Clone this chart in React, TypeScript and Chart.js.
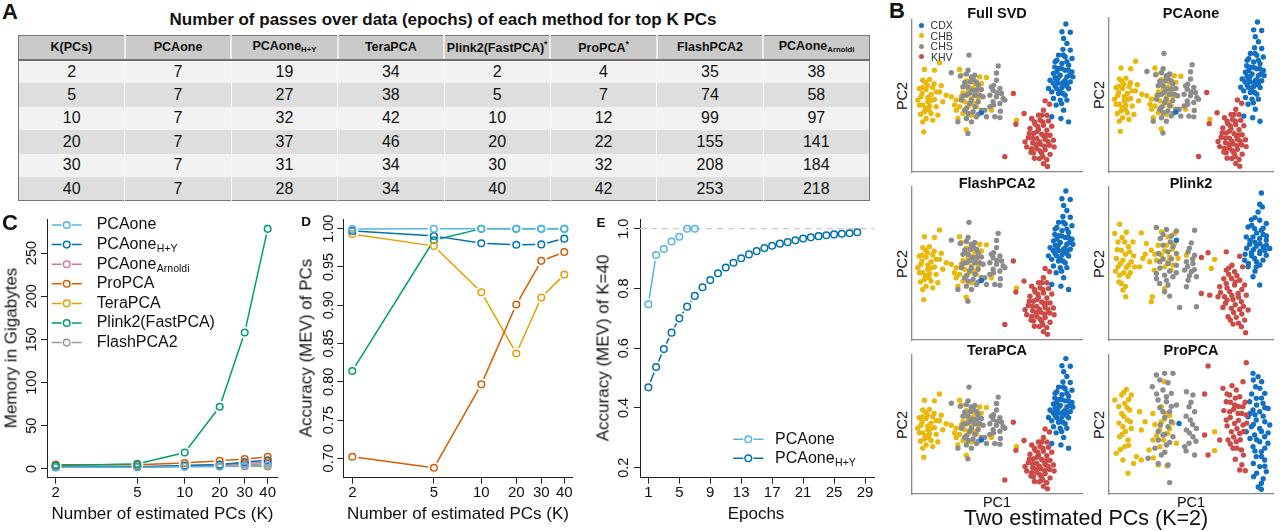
import React, { useEffect, useRef } from 'react';
import { Chart, registerables } from 'chart.js';

Chart.register(...registerables);

const FONT = '"Liberation Sans", Arial, Helvetica, sans-serif';
Chart.defaults.font.family = FONT;
Chart.defaults.color = '#111';

// ---------------- Panel A: epochs table ----------------
const TABLE_TITLE = 'Number of passes over data (epochs) of each method for top K PCs';
const TABLE_K = [2, 5, 10, 20, 30, 40];
const EPOCHS_PCAONE = [7, 7, 7, 7, 7, 7];
const EPOCHS_PCAONE_HY = [19, 27, 32, 37, 31, 28];
const EPOCHS_TERAPCA = [34, 38, 42, 46, 34, 34];
const EPOCHS_PLINK2 = [2, 5, 10, 20, 30, 40];
const EPOCHS_PROPCA = [4, 7, 12, 22, 32, 42];
const EPOCHS_FLASHPCA2 = [35, 74, 99, 155, 208, 253];
const EPOCHS_ARNOLDI = [38, 58, 97, 141, 184, 218];

// ---------------- Panels C / D ----------------
const K_VALUES = [2, 5, 10, 20, 30, 40];
// spacing of the K axis as laid out in the original figure
const K_AXIS_SPACING = [0, 81.6, 129, 164, 189, 212];
const kPos = (k: number) => K_AXIS_SPACING[K_VALUES.indexOf(k)];

const MEM_PCAONE = [2, 2, 2.5, 3, 3.5, 4];
const MEM_PCAONE_HY = [2, 2.5, 4, 5, 8, 10];
const MEM_ARNOLDI = [2, 2.5, 3.5, 5, 6.5, 8];
const MEM_PROPCA = [5, 5, 7, 9.5, 11.5, 14];
const MEM_TERAPCA = [3, 3, 3, 3, 3, 3];
const MEM_PLINK2 = [4, 6, 19, 72, 158, 278];
const MEM_FLASHPCA2 = [2, 2.5, 3, 4, 5, 6];
const MEM_TICKS = [0, 50, 100, 150, 200, 250];

const ACC_PCAONE = [0.9995, 1.0, 1.0, 1.0, 1.0, 1.0];
const ACC_PCAONE_HY = [0.997, 0.9905, 0.981, 0.979, 0.9795, 0.987];
const ACC_TERAPCA = [0.993, 0.9774, 0.917, 0.837, 0.91, 0.94];
const ACC_PROPCA = [0.702, 0.6876, 0.7966, 0.901, 0.958, 0.9695];
const ACC_PLINK2 = [0.814, 0.985, 1.0, 1.0, 1.0, 1.0];
const ACC_TICKS = [0.7, 0.75, 0.8, 0.85, 0.9, 0.95, 1.0];

// ---------------- Panel E ----------------
const EPOCHS_E_PCAONE = [1, 2, 3, 4, 5, 6, 7];
const MEV_PCAONE = [0.747, 0.912, 0.932, 0.957, 0.973, 1.0, 1.0];
const EPOCHS_E_HY = [1, 2, 3, 4, 5, 6, 7, 8, 9, 10, 11, 12, 13, 14, 15, 16, 17, 18, 19, 20, 21, 22, 23, 24, 25, 26, 27, 28];
const MEV_PCAONE_HY = [0.469, 0.537, 0.597, 0.652, 0.7, 0.739, 0.775, 0.804, 0.828, 0.851, 0.87, 0.886, 0.901, 0.914, 0.925, 0.935, 0.943, 0.95, 0.955, 0.961, 0.967, 0.971, 0.975, 0.978, 0.981, 0.983, 0.985, 0.988];
const EPOCH_TICKS = [1, 5, 9, 13, 17, 21, 25, 29];
const MEV_TICKS = [0.2, 0.4, 0.6, 0.8, 1.0];
const MEV_REFERENCE = 1.0;

// ---------------- Panel B: PC1 / PC2 scores (scaled 0-100) ----------------
type Pt = [number, number];
const POPULATIONS = ['CDX', 'CHB', 'CHS', 'KHV'];
const POP_COLORS = ['#1170C4', '#E9B80C', '#8C8C8C', '#CC4B46'];

const SVD_CDX: Pt[] = [[90.5,97.4],[88.2,92.3],[93.1,91.9],[89.2,87.9],[91.1,84.6],[88.8,80.7],[93.1,80.2],[86.2,76.9],[90.1,75.8],[94.1,74.7],[84.2,72.5],[88.2,71.4],[92.1,70.3],[85.2,73.6],[91.1,72.5],[86.2,68.1],[90.1,67.0],[94.1,65.9],[85.2,65.9],[83.2,64.8],[87.2,63.7],[91.1,62.6],[92.7,63.7],[94.6,62.6],[84.2,62.0],[81.2,60.4],[85.2,60.4],[89.2,59.3],[93.1,59.3],[83.0,58.5],[86.2,58.5],[89.2,57.4],[91.1,56.5],[84.2,56.5],[88.2,55.6],[92.1,54.9],[80.3,55.0],[82.2,52.7],[86.2,51.6],[88.8,51.6],[90.1,50.5],[83.2,48.4],[87.2,47.3],[91.1,47.3],[84.8,44.0],[89.2,40.7],[82.2,36.3],[87.6,35.2],[92.1,33.0],[40.8,38.9],[88,68],[86,62],[90,60],[87,53],[91,58.5],[84,69],[89,77],[92,67],[85,55],[88,45]];
const SVD_CHB: Pt[] = [[7.3,67.5],[16.2,71.9],[13.2,67.0],[6.3,60.4],[10.3,60.9],[7.9,58.9],[4.3,54.9],[8.3,54.3],[12.2,55.6],[17.2,56.7],[16.2,52.7],[14.2,52.7],[20.1,50.5],[5.9,51.6],[11.2,51.0],[5.3,49.5],[9.3,49.0],[13.2,47.7],[3.4,47.3],[9.3,46.2],[18.1,46.2],[6.3,44.0],[4.3,44.0],[10.3,43.3],[14.2,42.9],[9.9,40.7],[7.3,39.6],[11.2,38.5],[15.2,37.4],[8.3,35.2],[12.2,34.1],[6.3,33.0],[6.9,26.4],[23.1,49.5],[26.0,47.3],[28.0,67.5],[29.0,63.7],[34.9,61.5],[39.8,62.6],[43.8,62.2],[36.9,58.2],[40.8,58.2],[31.5,57.1],[33.0,53.8],[37.9,52.7],[33.5,51.6],[29.0,49.5],[34.9,48.4],[38.9,48.4],[31.0,46.2],[36.3,45.1],[25.0,44.0],[28.0,42.9],[33.0,42.9],[37.9,42.9],[26.0,40.7],[30.0,38.5],[34.9,37.4],[27.0,35.2],[31.9,27.9],[46.7,40.7],[61.5,34.1],[9,57],[6,55.5],[11,47],[8,42],[13,58],[5,38],[32,60],[36,55],[30,52],[35,45]];
const SVD_CHS: Pt[] = [[33.5,76.9],[23.1,65.3],[28.4,63.1],[32.0,64.4],[36.9,63.7],[34.9,62.6],[34.3,59.3],[37.9,59.3],[31.0,58.9],[38.9,57.1],[30.0,56.0],[35.5,53.8],[40.8,54.3],[32.0,50.5],[36.9,50.5],[39.8,50.5],[41.8,49.5],[29.0,47.3],[34.9,47.3],[33.9,45.1],[38.9,46.2],[31.0,40.7],[35.9,39.6],[40.8,40.7],[42.8,40.7],[33.0,38.5],[27.0,33.0],[32.0,35.2],[37.9,36.3],[43.8,36.3],[32.9,25.3],[50.7,69.7],[49.7,65.1],[49.7,60.4],[46.7,56.0],[47.7,53.8],[51.7,54.9],[52.7,51.6],[45.8,50.5],[49.7,49.5],[53.6,48.4],[47.7,46.2],[51.7,45.1],[54.6,47.3],[45.8,42.9],[48.7,36.3],[51.7,35.8],[33,67],[36,61],[33,56],[38,54],[34,52],[30,50],[37,43],[32,42],[39,38],[35,33],[48,57],[50,52],[48,44],[52,40]];
const SVD_KHV: Pt[] = [[59.6,51.6],[65.9,38.5],[61.1,31.4],[54.6,10.1],[78.3,46.8],[80.9,44.6],[77.3,40.7],[74.4,37.4],[79.3,37.4],[76.3,37.4],[70.4,35.2],[75.3,34.1],[80.3,33.6],[72.4,31.4],[77.3,30.8],[82.2,30.1],[69.4,28.6],[74.4,27.9],[79.3,27.5],[73.4,26.4],[69.0,25.3],[71.4,25.3],[76.3,24.8],[81.2,24.2],[77.7,23.5],[68.4,22.6],[73.4,22.0],[78.3,21.3],[83.2,20.9],[66.5,19.8],[71.0,19.1],[75.7,18.2],[80.9,17.6],[67.5,16.5],[83.6,16.5],[73.4,15.4],[70.4,15.4],[78.3,14.7],[75.3,13.8],[71.4,12.5],[76.3,12.1],[81.2,11.6],[74.9,8.8],[79.3,8.1],[77.3,5.5],[79.7,3.7],[72,33],[77,33],[74,30],[79,24],[71,22],[75,20],[80,20],[73,18],[78,17],[70,13],[77,10],[72,9]];

const PLINK2_CDX: Pt[] = [[92.9,96.1],[91.9,88.7],[93.5,87.0],[90.9,83.7],[86.8,78.7],[91.9,78.3],[95.9,76.1],[84.8,73.9],[88.8,72.8],[92.9,71.7],[83.7,67.4],[87.8,67.4],[91.9,66.3],[95.9,65.2],[85.8,62.6],[89.8,61.3],[93.9,60.9],[98.0,59.8],[86.8,57.0],[91.9,56.5],[95.9,55.4],[88.8,53.3],[93.9,52.2],[82.7,52.2],[84.8,47.8],[89.8,47.8],[87.8,41.3],[91.9,35.9],[41.1,65.2],[87,75],[90,70],[94,69],[86,65],[89,64],[92,63],[96,62],[84,60],[88,59],[92,58],[95,58.5],[87,55],[90,51],[85,50],[92,49],[89,45],[94,73],[89,80],[96,68],[83,56]];
const PLINK2_CHB: Pt[] = [[6.5,75.7],[3.5,69.6],[10.6,70.4],[19.7,70.0],[5.5,64.1],[9.6,64.1],[14.6,64.1],[7.5,58.7],[12.6,57.6],[4.5,53.3],[8.5,52.2],[13.6,51.1],[5.5,47.8],[10.6,47.4],[15.6,47.8],[6.5,42.4],[11.6,41.7],[7.5,37.0],[8.5,32.6],[10.2,28.3],[22.8,63.0],[25.8,58.7],[20.7,53.3],[24.8,51.1],[18.7,47.8],[31.9,70.7],[36.0,67.4],[40.0,69.6],[33.9,58.3],[38.6,59.3],[31.9,55.4],[37.0,54.3],[42.1,53.3],[33.9,47.8],[37.8,45.7],[27.6,45.7],[33.9,33.7],[26.4,28.3],[25.8,25.0],[47.2,55.4],[62.4,46.7],[64.4,52.6],[8,67],[12,61],[5,59],[10,56],[15,55],[7,50],[12,49],[9,44],[13,44],[4,45],[6,38],[10,35],[28,56],[35,62],[30,62],[40,63],[36,51],[39,49],[29,52],[22,56]];
const PLINK2_CHS: Pt[] = [[28.9,73.5],[35.0,72.2],[41.1,71.3],[31.3,66.3],[37.4,64.1],[30.3,56.5],[36.0,57.6],[41.1,56.5],[30.9,51.1],[36.0,50.0],[41.1,48.9],[28.9,43.5],[33.9,42.4],[39.0,41.3],[30.9,37.0],[36.0,35.9],[33.9,31.5],[37.0,28.7],[43.1,21.3],[52.2,71.7],[50.2,63.5],[48.2,57.6],[52.2,55.4],[47.2,51.1],[51.2,50.0],[46.1,45.7],[50.2,44.6],[53.3,41.3],[48.2,39.1],[47.2,34.8],[53.3,21.7],[33,69],[38,68],[33,62],[39,61],[33,53],[38,53],[31,47],[37,45],[35,39],[41,44],[29,40],[49,60],[51,53],[48,48],[52,46],[49,42]];
const PLINK2_KHV: Pt[] = [[71.5,57.6],[60.4,57.0],[56.3,53.9],[79.7,54.8],[75.0,48.9],[81.5,47.8],[71.5,45.7],[76.6,44.6],[74.6,40.2],[79.7,39.1],[71.5,37.0],[76.6,35.9],[82.7,35.9],[73.6,31.5],[78.7,30.4],[83.7,29.3],[70.5,28.3],[75.6,26.5],[80.7,25.0],[69.5,21.3],[74.6,20.7],[79.7,20.0],[84.8,19.6],[72.6,15.2],[77.6,14.8],[82.7,13.0],[75.6,10.4],[80.7,8.7],[83.3,4.8],[56.3,30.4],[61.4,29.3],[66.5,28.3],[67.5,34.8],[73,43],[78,42],[70,40],[77,38],[81,33],[72,34],[75,29],[79,28],[72,26],[77,23],[82,22],[71,24],[76,18],[81,17],[74,13],[79,11],[68,31],[73,47]];

const PROPCA_CDX: Pt[] = [[87.8,86.8],[90.9,84.4],[93.1,80.8],[89.4,77.2],[95.0,72.4],[89.8,68.8],[85.8,66.4],[93.9,65.2],[97.0,61.6],[87.8,60.4],[91.9,59.2],[84.8,55.6],[89.8,53.2],[95.0,52.0],[98.0,49.6],[86.8,48.4],[91.9,47.2],[83.7,44.8],[88.8,42.4],[94.9,41.2],[91.9,37.6],[96.9,36.5],[87.8,34.1],[92.9,30.5],[89.8,26.9],[94.9,24.5],[91.9,19.7],[95.9,16.1],[88.2,12.5],[92.9,7.7],[92.9,3.4],[42.7,50.8],[88,82],[92,76],[87,72],[93,69],[90,64],[95,62],[86,58],[89,57],[94,56],[88,50],[93,45],[97,44],[86,40],[90,39],[95,33],[89,31],[93,27],[88,22],[95,20],[90,15],[94,11],[91,5]];
const PROPCA_CHB: Pt[] = [[10.6,75.3],[7.7,71.2],[13.6,71.2],[3.5,67.6],[9.6,65.2],[12.6,60.4],[7.7,58.0],[11.2,53.2],[8.5,48.4],[13.6,47.2],[6.5,41.2],[11.6,38.8],[9.6,34.1],[4.5,29.3],[8.5,24.5],[16.7,26.9],[11.6,14.9],[19.7,46.0],[18.7,59.2],[26.8,58.0],[31.9,62.8],[33.9,80.8],[37.0,56.4],[33.9,54.0],[39.0,51.1],[30.9,46.3],[35.8,43.6],[26.8,38.8],[33.3,38.8],[24.4,31.7],[19.7,24.5],[30.1,20.9],[35.4,20.1],[64.4,44.8],[64.4,31.2],[41.1,36.5],[9,73],[12,68],[6,63],[11,62],[9,56],[13,52],[6,51],[10,45],[8,43],[12,35],[7,32],[15,22],[28,50],[32,52],[35,58],[29,42],[22,52],[37,47],[31,34],[27,26]];
const PROPCA_CHS: Pt[] = [[28.9,85.6],[33.9,86.8],[39.0,86.8],[26.4,77.2],[32.9,74.8],[38.0,72.4],[29.9,67.6],[35.0,66.4],[41.1,64.0],[32.9,59.2],[37.0,59.2],[31.3,49.6],[36.0,48.4],[32.9,42.4],[39.0,41.2],[30.1,38.8],[35.0,35.3],[23.8,25.7],[31.9,28.1],[36.0,20.9],[37.0,8.2],[47.2,73.6],[51.2,71.2],[48.8,62.8],[52.2,59.2],[49.6,53.2],[53.3,47.2],[47.2,46.0],[51.2,41.2],[48.8,36.5],[52.2,28.1],[46.1,34.1],[31,82],[36,80],[29,72],[35,70],[38,63],[31,62],[34,55],[38,52],[30,45],[34,43],[37,37],[28,33],[34,30],[30,22],[50,66],[47,56],[51,50],[49,44],[53,38],[47,31]];
const PROPCA_KHV: Pt[] = [[60.4,92.1],[83.7,94.5],[69.5,76.0],[81.7,80.8],[77.6,74.8],[58.3,71.9],[73.6,71.2],[79.7,70.0],[71.5,66.4],[76.6,64.0],[81.7,62.8],[73.6,59.2],[78.7,58.0],[83.7,56.8],[71.5,53.2],[76.6,50.8],[81.7,49.6],[74.6,44.8],[79.7,43.6],[72.6,38.8],[77.6,37.6],[75.6,32.9],[80.7,31.7],[79.7,17.3],[83.1,16.8],[60.4,28.1],[58.3,42.4],[67.5,38.8],[75,78],[72,72],[77,69],[83,66],[74,66],[79,63],[70,60],[76,61],[81,58],[74,55],[79,53],[84,51],[72,49],[78,47],[82,45],[76,41],[80,39],[74,36],[78,33],[82,28],[77,25],[81,21]];

const SVD_SET = [SVD_CDX, SVD_CHB, SVD_CHS, SVD_KHV];
const PLINK2_SET = [PLINK2_CDX, PLINK2_CHB, PLINK2_CHS, PLINK2_KHV];
const PROPCA_SET = [PROPCA_CDX, PROPCA_CHB, PROPCA_CHS, PROPCA_KHV];

const COL = {
  pcaone: '#56B4E9',
  hy: '#0072B2',
  arnoldi: '#CC79A7',
  propca: '#D55E00',
  terapca: '#E69F00',
  plink2: '#009E73',
  flash: '#999999',
};

// ---------------- plugins ----------------
const gapLines = {
  id: 'gapLines',
  beforeDatasetDraw(chart: any, args: any) {
    const ds = chart.data.datasets[args.index];
    if (!ds.rGap) return;
    const ctx = chart.ctx;
    const pts = args.meta.data;
    ctx.save();
    ctx.strokeStyle = ds.pointBorderColor;
    ctx.lineWidth = ds.rLineWidth || 1.5;
    for (let i = 0; i < pts.length - 1; i++) {
      const a = pts[i], b = pts[i + 1];
      const dx = b.x - a.x, dy = b.y - a.y;
      const d = Math.hypot(dx, dy);
      const g = ds.rGap;
      if (d <= 2 * g + 0.5) continue;
      const ux = dx / d, uy = dy / d;
      ctx.beginPath();
      ctx.moveTo(a.x + ux * g, a.y + uy * g);
      ctx.lineTo(b.x - ux * g, b.y - uy * g);
      ctx.stroke();
    }
    ctx.restore();
  },
};

function rYTicks(offset: number, decimals: number, size: number) {
  return {
    id: 'rYTicks',
    afterDraw(chart: any) {
      const s = chart.scales.y;
      const ctx = chart.ctx;
      ctx.save();
      ctx.font = `${size}px ${FONT}`;
      ctx.fillStyle = '#111';
      ctx.textAlign = 'center';
      ctx.textBaseline = 'middle';
      for (const t of s.ticks) {
        const y = s.getPixelForValue(t.value);
        ctx.save();
        ctx.translate(chart.chartArea.left - offset, y);
        ctx.rotate(-Math.PI / 2);
        ctx.fillText(Number(t.value).toFixed(decimals), 0, 0);
        ctx.restore();
      }
      ctx.restore();
    },
  };
}

type LegItem = { label: string; sub?: string; color: string };
function rLegend(items: LegItem[], g: { x0: number; x1: number; cx: number; tx: number; y0: number; dy: number }) {
  return {
    id: 'rLegend',
    afterDraw(chart: any) {
      const ctx = chart.ctx;
      ctx.save();
      items.forEach((it, i) => {
        const y = g.y0 + i * g.dy;
        ctx.strokeStyle = it.color;
        ctx.lineWidth = 1.5;
        ctx.beginPath();
        ctx.moveTo(g.x0, y);
        ctx.lineTo(g.cx - 5, y);
        ctx.moveTo(g.cx + 5, y);
        ctx.lineTo(g.x1, y);
        ctx.stroke();
        ctx.beginPath();
        ctx.arc(g.cx, y, 3.3, 0, Math.PI * 2);
        ctx.stroke();
        ctx.fillStyle = '#111';
        ctx.textAlign = 'left';
        ctx.textBaseline = 'middle';
        ctx.font = `16px ${FONT}`;
        ctx.fillText(it.label, g.tx, y);
        if (it.sub) {
          const w = ctx.measureText(it.label).width;
          ctx.font = `10.5px ${FONT}`;
          ctx.fillText(it.sub, g.tx + w + 0.5, y + 4.5);
        }
      });
      ctx.restore();
    },
  };
}

function refLine(value: number) {
  return {
    id: 'refLine',
    beforeDatasetsDraw(chart: any) {
      const { ctx, chartArea } = chart;
      const y = chart.scales.y.getPixelForValue(value);
      ctx.save();
      ctx.strokeStyle = '#c9c9c9';
      ctx.lineWidth = 1.3;
      ctx.setLineDash([6, 5]);
      ctx.beginPath();
      ctx.moveTo(chartArea.left, y);
      ctx.lineTo(chartArea.right, y);
      ctx.stroke();
      ctx.restore();
    },
  };
}

// ---------------- line chart component ----------------
type Series = { color: string; points: { x: number; y: number }[] };
type LineSpec = {
  left: number; top: number; width: number; height: number;
  yAxisW: number; xAxisH: number; padTop: number; padRight: number;
  xMin: number; xMax: number; xTicks: number[]; xLabel: (v: number) => string;
  yMin: number; yMax: number; yTicks: number[]; yDecimals: number; yOffset: number;
  series: Series[]; plugins: any[];
};

function LineChart({ spec }: { spec: LineSpec }) {
  const ref = useRef<HTMLCanvasElement>(null);
  useEffect(() => {
    const axisCommon = {
      type: 'linear' as const,
      grid: { display: true, drawOnChartArea: false, drawTicks: true, tickLength: 6, color: '#222', lineWidth: 1 },
      border: { display: true, color: '#222', width: 1 },
    };
    const chart = new Chart(ref.current!, {
      type: 'scatter',
      data: {
        datasets: spec.series.map((s) => ({
          data: s.points,
          showLine: false,
          pointRadius: 3.3,
          pointHoverRadius: 3.3,
          pointBorderWidth: 1.5,
          pointBorderColor: s.color,
          pointBackgroundColor: 'rgba(0,0,0,0)',
          rGap: 6,
          rLineWidth: 1.5,
        })) as any,
      },
      options: {
        responsive: false,
        animation: false,
        devicePixelRatio: 1,
        events: [],
        layout: { padding: { left: 0, top: spec.padTop, right: spec.padRight, bottom: 0 }, autoPadding: false },
        plugins: { legend: { display: false }, tooltip: { enabled: false }, title: { display: false } },
        scales: {
          x: {
            ...axisCommon,
            min: spec.xMin,
            max: spec.xMax,
            afterBuildTicks: (s: any) => { s.ticks = spec.xTicks.map((v) => ({ value: v })); },
            afterFit: (s: any) => { s.height = spec.xAxisH; },
            ticks: {
              autoSkip: false, maxRotation: 0, minRotation: 0, padding: 0,
              font: { size: 15, family: FONT }, color: '#111',
              callback: (v: any) => spec.xLabel(Number(v)),
            },
          },
          y: {
            ...axisCommon,
            min: spec.yMin,
            max: spec.yMax,
            afterBuildTicks: (s: any) => { s.ticks = spec.yTicks.map((v) => ({ value: v })); },
            afterFit: (s: any) => { s.width = spec.yAxisW; },
            ticks: { display: false },
          },
        },
      } as any,
      plugins: [gapLines, rYTicks(spec.yOffset, spec.yDecimals, 14.5), ...spec.plugins],
    });
    return () => chart.destroy();
  }, []);
  return (
    <canvas
      ref={ref}
      width={spec.width}
      height={spec.height}
      style={{ position: 'absolute', left: spec.left, top: spec.top, width: spec.width, height: spec.height }}
    />
  );
}

// ---------------- scatter component ----------------
function PcaScatter({ box, set }: { box: [number, number, number, number]; set: Pt[][] }) {
  const ref = useRef<HTMLCanvasElement>(null);
  const [l, t, w, h] = box;
  useEffect(() => {
    const axis = {
      type: 'linear' as const,
      min: 0,
      max: 100,
      ticks: { display: false },
      grid: { display: false },
      border: { display: true, color: '#8a8a8a', width: 1.3 },
    };
    const order = [3, 0, 2, 1];
    const chart = new Chart(ref.current!, {
      type: 'scatter',
      data: {
        datasets: order.map((i) => ({
          label: POPULATIONS[i],
          data: set[i].map(([x, y]) => ({ x, y })),
          pointRadius: 2.7,
          pointHoverRadius: 2.7,
          pointBorderWidth: 0,
          pointBackgroundColor: POP_COLORS[i],
        })),
      },
      options: {
        responsive: false,
        animation: false,
        devicePixelRatio: 1,
        events: [],
        layout: { padding: { left: 1, top: 4, right: 4, bottom: 1 }, autoPadding: false },
        plugins: { legend: { display: false }, tooltip: { enabled: false } },
        scales: {
          x: { ...axis, afterFit: (s: any) => { s.height = 0; } },
          y: { ...axis, afterFit: (s: any) => { s.width = 0; } },
        },
      } as any,
    });
    return () => chart.destroy();
  }, []);
  return (
    <canvas
      ref={ref}
      width={w + 5}
      height={h + 5}
      style={{ position: 'absolute', left: l - 1, top: t - 4, width: w + 5, height: h + 5 }}
    />
  );
}

// ---------------- text helper ----------------
function Txt(props: { x: number; y: number; size: number; bold?: boolean; rot?: boolean; color?: string; children: React.ReactNode }) {
  const { x, y, size, bold, rot, color, children } = props;
  return (
    <div
      style={{
        position: 'absolute', left: x, top: y,
        transform: `translate(-50%, -50%)${rot ? ' rotate(-90deg)' : ''}`,
        font: `${bold ? 'bold ' : ''}${size}px ${FONT}`,
        color: color || '#111', whiteSpace: 'nowrap', lineHeight: 1,
      }}
    >
      {children}
    </div>
  );
}

const Sub = ({ children }: { children: React.ReactNode }) => (
  <span style={{ fontSize: '0.62em', verticalAlign: '-0.25em' }}>{children}</span>
);

function EpochTable() {
  const headers: React.ReactNode[] = [
    'K(PCs)', 'PCAone', <>PCAone<Sub>H+Y</Sub></>, 'TeraPCA',
    <>Plink2(FastPCA)<sup style={{ fontSize: '0.7em' }}>*</sup></>,
    <>ProPCA<sup style={{ fontSize: '0.7em' }}>*</sup></>, 'FlashPCA2', <>PCAone<Sub>Arnoldi</Sub></>,
  ];
  const rows = TABLE_K.map((k, i) => [k, EPOCHS_PCAONE[i], EPOCHS_PCAONE_HY[i], EPOCHS_TERAPCA[i], EPOCHS_PLINK2[i], EPOCHS_PROPCA[i], EPOCHS_FLASHPCA2[i], EPOCHS_ARNOLDI[i]]);
  return (
    <table
      style={{
        position: 'absolute', left: 18, top: 35, width: 852, borderCollapse: 'collapse',
        tableLayout: 'fixed', fontFamily: FONT, border: '1px solid #777', color: '#111',
      }}
    >
      <thead>
        <tr style={{ height: 24, background: '#cacaca' }}>
          {headers.map((h, i) => (
            <th key={i} style={{ fontSize: 12.5, fontWeight: 'bold', padding: 0, borderLeft: i ? '2px solid #ececec' : 'none', borderBottom: '2px solid #6f6f6f', lineHeight: 1 }}>
              {h}
            </th>
          ))}
        </tr>
      </thead>
      <tbody>
        {rows.map((r, i) => (
          <tr key={i} style={{ height: 23.5, background: i % 2 ? '#dedede' : '#f2f2f2' }}>
            {r.map((v, j) => (
              <td key={j} style={{ fontSize: 16, textAlign: 'center', padding: 0, borderLeft: j ? '1px solid #f7f7f7' : 'none', lineHeight: 1 }}>
                {v}
              </td>
            ))}
          </tr>
        ))}
      </tbody>
    </table>
  );
}

const kPoints = (vals: number[]) => K_VALUES.map((k, i) => ({ x: kPos(k), y: vals[i] }));
const kLabel = (v: number) => {
  const i = K_AXIS_SPACING.indexOf(v);
  return i >= 0 ? String(K_VALUES[i]) : '';
};

const SPEC_C: LineSpec = {
  left: 0, top: 210, width: 290, height: 321,
  yAxisW: 47, xAxisH: 53.3, padTop: 9, padRight: 13,
  xMin: -8.7, xMax: 221.3, xTicks: K_AXIS_SPACING, xLabel: kLabel,
  yMin: -10.1, yMax: 289.4, yTicks: MEM_TICKS, yDecimals: 0, yOffset: 15,
  series: [
    { color: COL.plink2, points: kPoints(MEM_PLINK2) },
    { color: COL.pcaone, points: kPoints(MEM_PCAONE) },
    { color: COL.propca, points: kPoints(MEM_PROPCA) },
    { color: COL.hy, points: kPoints(MEM_PCAONE_HY) },
    { color: COL.arnoldi, points: kPoints(MEM_ARNOLDI) },
    { color: COL.terapca, points: kPoints(MEM_TERAPCA) },
    { color: COL.flash, points: kPoints(MEM_FLASHPCA2) },
  ],
  plugins: [
    rLegend(
      [
        { label: 'PCAone', color: COL.pcaone },
        { label: 'PCAone', sub: 'H+Y', color: COL.hy },
        { label: 'PCAone', sub: 'Arnoldi', color: COL.arnoldi },
        { label: 'ProPCA', color: COL.propca },
        { label: 'TeraPCA', color: COL.terapca },
        { label: 'Plink2(FastPCA)', color: COL.plink2 },
        { label: 'FlashPCA2', color: COL.flash },
      ],
      { x0: 51.7, x1: 81.7, cx: 66.7, tx: 96.7, y0: 15, dy: 19.6 },
    ),
  ],
};

const SPEC_D: LineSpec = {
  left: 290, top: 210, width: 300, height: 321,
  yAxisW: 53.3, xAxisH: 53.3, padTop: 9, padRight: 17.3,
  xMin: -9, xMax: 220.4, xTicks: K_AXIS_SPACING, xLabel: kLabel,
  yMin: 0.67465, yMax: 1.01267, yTicks: ACC_TICKS, yDecimals: 2, yOffset: 14,
  series: [
    { color: COL.pcaone, points: kPoints(ACC_PCAONE) },
    { color: COL.hy, points: kPoints(ACC_PCAONE_HY) },
    { color: COL.propca, points: kPoints(ACC_PROPCA) },
    { color: COL.terapca, points: kPoints(ACC_TERAPCA) },
    { color: COL.plink2, points: kPoints(ACC_PLINK2) },
  ],
  plugins: [],
};

const SPEC_E: LineSpec = {
  left: 590, top: 210, width: 300, height: 321,
  yAxisW: 50, xAxisH: 53.3, padTop: 9, padRight: 16,
  xMin: -0.08, xMax: 30.16, xTicks: EPOCH_TICKS, xLabel: (v) => String(v),
  yMin: 0.16653, yMax: 1.03247, yTicks: MEV_TICKS, yDecimals: 1, yOffset: 16,
  series: [
    { color: COL.pcaone, points: EPOCHS_E_PCAONE.map((e, i) => ({ x: e, y: MEV_PCAONE[i] })) },
    { color: COL.hy, points: EPOCHS_E_HY.map((e, i) => ({ x: e, y: MEV_PCAONE_HY[i] })) },
  ],
  plugins: [
    refLine(MEV_REFERENCE),
    rLegend(
      [
        { label: 'PCAone', color: COL.pcaone },
        { label: 'PCAone', sub: 'H+Y', color: COL.hy },
      ],
      { x0: 143.3, x1: 173.3, cx: 158.3, tx: 185, y0: 229.3, dy: 19 },
    ),
  ],
};

type ScatterPanel = { title: string; box: [number, number, number, number]; set: Pt[][]; titleY: number; pc1?: boolean };
const SCATTERS: ScatterPanel[] = [
  { title: 'Full SVD', box: [912, 20, 170, 152], set: SVD_SET, titleY: 13 },
  { title: 'PCAone', box: [1109, 18, 164, 154], set: SVD_SET, titleY: 13 },
  { title: 'FlashPCA2', box: [912, 187, 170, 153], set: SVD_SET, titleY: 183 },
  { title: 'Plink2', box: [1109, 187, 164, 153], set: PLINK2_SET, titleY: 183 },
  { title: 'TeraPCA', box: [912, 355, 170, 139], set: SVD_SET, titleY: 350, pc1: true },
  { title: 'ProPCA', box: [1109, 355, 164, 139], set: PROPCA_SET, titleY: 350, pc1: true },
];

export default function App() {
  return (
    <div style={{ position: 'absolute', left: 0, top: 0, width: 1280, height: 531, background: '#fff', overflow: 'hidden', fontFamily: FONT }}>
      {/* Panel A */}
      <Txt x={10} y={11.5} size={22} bold>A</Txt>
      <Txt x={443} y={18.5} size={17} bold>{TABLE_TITLE}</Txt>
      <EpochTable />

      {/* Panels C, D, E */}
      <LineChart spec={SPEC_C} />
      <LineChart spec={SPEC_D} />
      <LineChart spec={SPEC_E} />
      <Txt x={10} y={222.5} size={22} bold>C</Txt>
      <Txt x={306} y={222} size={13.5} bold>D</Txt>
      <Txt x={601} y={222.5} size={13.5} bold>E</Txt>
      <Txt x={162.5} y={512.7} size={17}>Number of estimated PCs (K)</Txt>
      <Txt x={458} y={512.7} size={17}>Number of estimated PCs (K)</Txt>
      <Txt x={756} y={513.3} size={17}>Epochs</Txt>
      <Txt x={11} y={348} size={17} rot>Memory in Gigabytes</Txt>
      <Txt x={305.5} y={348} size={17} rot>Accuracy (MEV) of PCs</Txt>
      <Txt x={603} y={348} size={17} rot>Accuracy (MEV) of K=40</Txt>

      {/* Panel B */}
      <Txt x={897} y={10.5} size={22} bold>B</Txt>
      {SCATTERS.map((p, i) => (
        <React.Fragment key={i}>
          <PcaScatter box={p.box} set={p.set} />
          <Txt x={p.box[0] + p.box[2] / 2} y={p.titleY} size={14.5} bold>{p.title}</Txt>
          <Txt x={p.box[0] - 10} y={p.box[1] + p.box[3] / 2} size={14.5} rot>PC2</Txt>
          {p.pc1 && <Txt x={p.box[0] + p.box[2] / 2} y={502} size={14.5}>PC1</Txt>}
        </React.Fragment>
      ))}
      {POPULATIONS.map((name, i) => (
        <React.Fragment key={name}>
          <div style={{ position: 'absolute', left: 919.2, top: 22.5 + i * 10.6, width: 5, height: 5, borderRadius: '50%', background: POP_COLORS[i] }} />
          <Txt x={931.7 + 10} y={25 + i * 10.6} size={10.5} color="#333">{name}</Txt>
        </React.Fragment>
      ))}
      <Txt x={1086} y={519} size={21.5}>Two estimated PCs (K=2)</Txt>
    </div>
  );
}
